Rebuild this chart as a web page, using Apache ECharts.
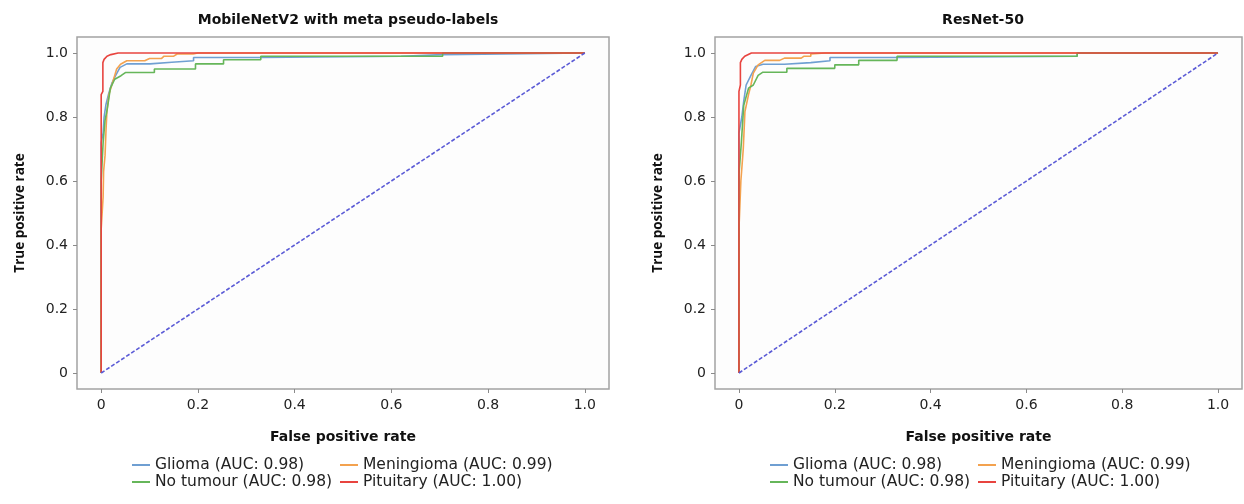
<!DOCTYPE html>
<html>
<head>
<meta charset="utf-8">
<script src="https://cdn.jsdelivr.net/npm/echarts@6/dist/echarts.min.js"></script>
<style>
  html, body { margin: 0; padding: 0; background: #ffffff; }
  #chart { width: 1244px; height: 504px; }
</style>
</head>
<body>
<div id="chart"></div>
<script>
// Panel titles and tick positions
const panelTitles = ['MobileNetV2 with meta pseudo-labels', 'ResNet-50'];
const tickValues = [0, 0.2, 0.4, 0.6, 0.8, 1.0];
const classNames = ['Glioma (AUC: 0.98)', 'Meningioma (AUC: 0.99)', 'No tumour (AUC: 0.98)', 'Pituitary (AUC: 1.00)'];
const classColors = ['#6f9fd2', '#f3a24f', '#66b65a', '#e8443f'];

// ROC points [false positive rate, true positive rate] — MobileNetV2
const mobileGlioma = [[0,0],[0,0.72],[0.004,0.75],[0.006,0.8],[0.01,0.84],[0.015,0.87],[0.022,0.905],[0.03,0.93],[0.039,0.955],[0.053,0.966],[0.101,0.966],[0.101,0.971],[0.146,0.971],[0.146,0.976],[0.191,0.976],[0.191,0.986],[0.329,0.986],[0.329,0.99],[0.62,0.99],[0.62,0.995],[0.706,0.995],[0.706,1],[1,1]];
const mobileMeningioma = [[0,0],[0,0.45],[0.004,0.55],[0.005,0.63],[0.008,0.68],[0.01,0.76],[0.012,0.82],[0.016,0.87],[0.022,0.9],[0.028,0.93],[0.032,0.95],[0.04,0.965],[0.053,0.976],[0.09,0.976],[0.1,0.983],[0.125,0.983],[0.13,0.99],[0.15,0.99],[0.157,0.997],[0.19,0.997],[0.2,1],[1,1]];
const mobileNoTumour = [[0,0],[0,0.6],[0.004,0.72],[0.008,0.79],[0.012,0.82],[0.016,0.86],[0.019,0.89],[0.028,0.918],[0.041,0.929],[0.05,0.939],[0.11,0.939],[0.11,0.95],[0.195,0.95],[0.195,0.966],[0.253,0.966],[0.253,0.979],[0.33,0.979],[0.33,0.99],[0.706,0.99],[0.706,1],[1,1]];
const mobilePituitary = [[0,0],[0,0.87],[0.0035,0.88],[0.0035,0.97],[0.006,0.98],[0.012,0.99],[0.02,0.995],[0.035,1],[1,1]];

// ROC points [false positive rate, true positive rate] — ResNet-50
const resnetGlioma = [[0,0],[0,0.75],[0.006,0.8],[0.01,0.85],[0.015,0.9],[0.025,0.93],[0.035,0.958],[0.05,0.965],[0.095,0.965],[0.095,0.97],[0.15,0.97],[0.15,0.976],[0.19,0.976],[0.19,0.986],[0.33,0.986],[0.33,0.99],[0.706,0.99],[0.706,1],[1,1]];
const resnetMeningioma = [[0,0],[0,0.45],[0.004,0.6],[0.006,0.64],[0.009,0.7],[0.0125,0.817],[0.02,0.87],[0.025,0.9],[0.03,0.937],[0.04,0.963],[0.054,0.977],[0.085,0.977],[0.095,0.984],[0.13,0.984],[0.136,0.99],[0.15,0.99],[0.15,0.997],[0.18,1],[1,1]];
const resnetNoTumour = [[0,0],[0,0.62],[0.005,0.72],[0.01,0.837],[0.02,0.89],[0.03,0.9],[0.04,0.93],[0.05,0.94],[0.1,0.94],[0.1,0.952],[0.2,0.952],[0.2,0.963],[0.25,0.963],[0.25,0.977],[0.33,0.977],[0.33,0.99],[0.706,0.99],[0.706,1],[1,1]];
const resnetPituitary = [[0,0],[0,0.88],[0.003,0.9],[0.003,0.97],[0.006,0.98],[0.012,0.99],[0.026,1],[1,1]];

// Chance diagonal
const chanceLine = [[0,0],[1,1]];

const panelCurves = [
  [mobileGlioma, mobileMeningioma, mobileNoTumour, mobilePituitary],
  [resnetGlioma, resnetMeningioma, resnetNoTumour, resnetPituitary]
];

// Wide face for horizontal text, narrower face for the rotated axis title
const WIDE = 'DejaVu Sans';
const NARROW = 'Open Sans';
const grids = [
  { left: 77, right: 635, top: 37, bottom: 115 },
  { left: 715, right: 2, top: 37, bottom: 115 }
];
const titleCenters = [343, 978];
const legendCols = [[132, 340], [770, 978]];
const legendRows = [457, 474];

function tickLabel(v) { return v === 0 ? '0' : v.toFixed(1); }

const axisCommon = {
  type: 'value',
  min: -0.05,
  max: 1.05,
  nameLocation: 'middle',
  axisLine: { show: false, onZero: false },
  splitLine: { show: false },
  axisTick: { show: true, length: 4, customValues: tickValues, lineStyle: { color: '#8a8a8a' } },
  axisLabel: { customValues: tickValues, formatter: tickLabel, margin: 9, fontFamily: WIDE, fontSize: 14, color: '#222' }
};

const option = {
  backgroundColor: '#ffffff',
  animation: false,
  textStyle: { fontFamily: WIDE },
  title: panelTitles.map((t, i) => ({
    text: t,
    left: titleCenters[i],
    top: 8,
    textAlign: 'center',
    textStyle: { fontFamily: WIDE, fontSize: 14, fontWeight: 'bold', color: '#111' }
  })),
  grid: grids.map(g => Object.assign({
    show: true,
    backgroundColor: '#fdfdfd',
    borderColor: '#a3a3a3',
    borderWidth: 1.5,
    containLabel: false
  }, g)),
  xAxis: grids.map((g, i) => Object.assign({}, axisCommon, {
    gridIndex: i,
    name: 'False positive rate',
    nameGap: 41,
    nameTextStyle: { fontFamily: WIDE, fontSize: 14, fontWeight: 'bold', color: '#111' }
  })),
  yAxis: grids.map((g, i) => Object.assign({}, axisCommon, {
    gridIndex: i,
    name: 'True positive rate',
    nameGap: 50,
    nameTextStyle: { fontFamily: NARROW, fontSize: 13.5, fontWeight: 'bold', color: '#111' }
  })),
  legend: [],
  series: []
};

panelCurves.forEach((curves, p) => {
  curves.forEach((pts, k) => {
    option.series.push({
      type: 'line',
      name: classNames[k],
      xAxisIndex: p,
      yAxisIndex: p,
      data: pts,
      showSymbol: false,
      symbol: 'none',
      lineStyle: { color: classColors[k], width: 1.6 },
      itemStyle: { color: classColors[k] },
      z: 2 + k
    });
  });
  option.series.push({
    type: 'line',
    name: 'chance',
    xAxisIndex: p,
    yAxisIndex: p,
    data: chanceLine,
    showSymbol: false,
    symbol: 'none',
    lineStyle: { color: '#5b5bd6', width: 1.6, type: [4, 2] },
    z: 7
  });
  classNames.forEach((nm, k) => {
    option.legend.push({
      data: [nm],
      left: legendCols[p][k % 2],
      top: legendRows[Math.floor(k / 2)],
      padding: 0,
      icon: 'rect',
      itemWidth: 18,
      itemHeight: 2,
      selectedMode: false,
      textStyle: { fontFamily: WIDE, fontSize: 15.5, color: '#222' }
    });
  });
});

const chart = echarts.init(document.getElementById('chart'), null, { renderer: 'canvas' });
chart.setOption(option);
</script>
</body>
</html>
